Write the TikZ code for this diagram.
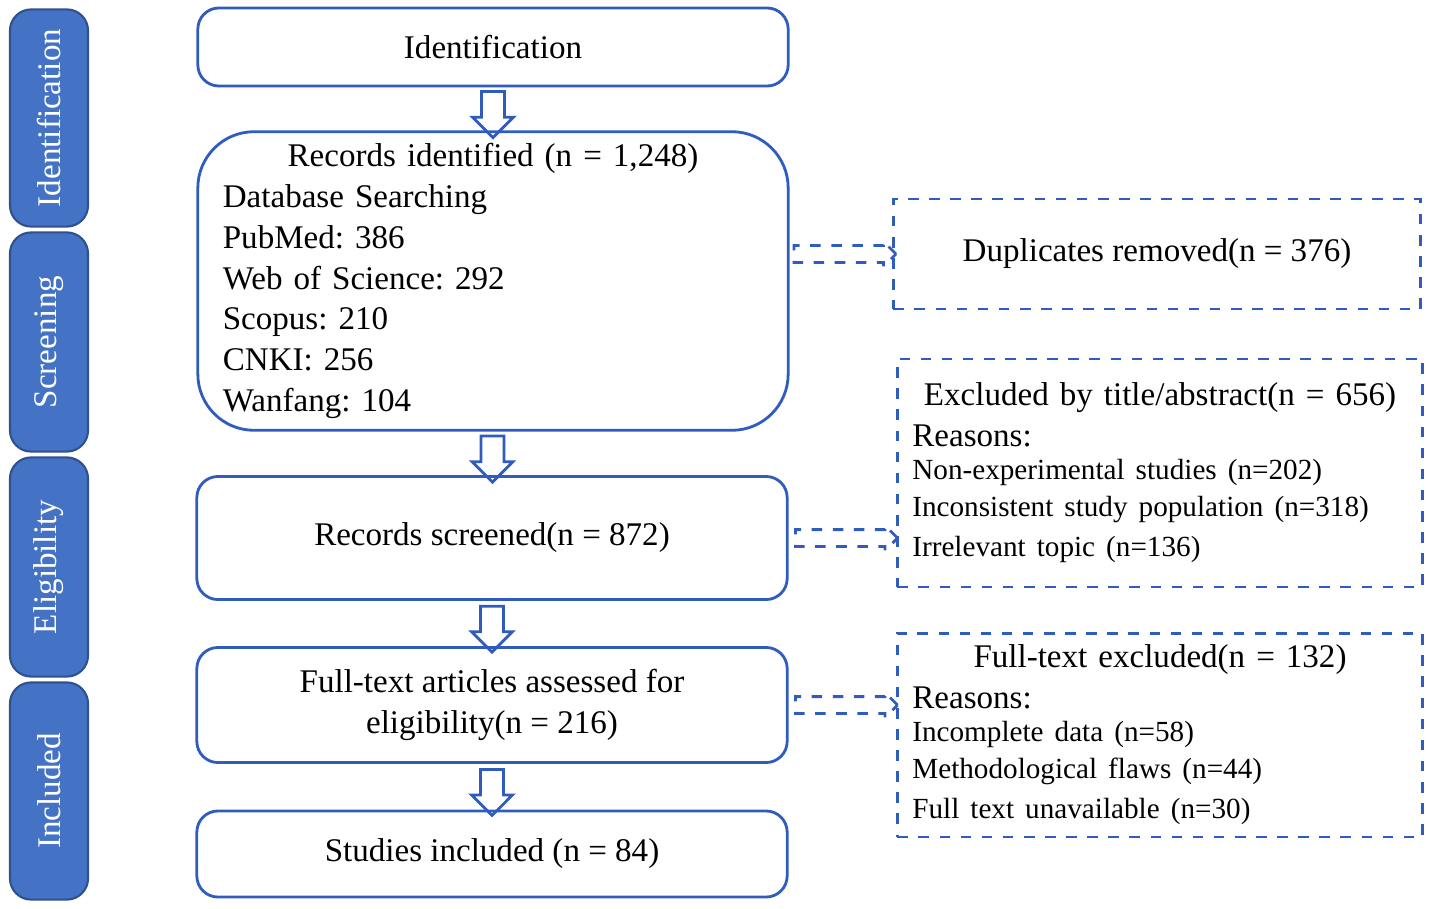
\documentclass[tikz,border=0pt]{standalone}
\usepackage{fontspec}
\setmainfont{Liberation Serif}
\usetikzlibrary{shapes.arrows,calc}
\definecolor{boxblue}{RGB}{48,92,190}
\definecolor{barfill}{RGB}{68,114,196}
\definecolor{bardraw}{RGB}{47,82,143}
\frenchspacing

\begin{document}
\begin{tikzpicture}[x=0.01cm,y=-0.01cm,font=\fontsize{9.4}{11.6}\selectfont,
  stage/.style={draw=bardraw,fill=barfill,rounded corners=6pt,text=white,minimum height=0.78cm,rotate=90,semithick},
  box/.style={draw=boxblue,thick,rounded corners=6pt,minimum width=5.9cm,align=center},
  side/.style={draw=boxblue,thick,dashed,minimum width=5.25cm,align=left},
  down/.style={single arrow,draw=boxblue,thick,shape border rotate=270,single arrow head extend=0.09cm,minimum height=0.46cm,inner sep=0.1cm},
  right/.style={single arrow,draw=boxblue,thick,dashed,single arrow head extend=0.04cm,minimum height=1.02cm,inner sep=0.07cm}]
\useasboundingbox (0,0) rectangle (1430,909);
% stage bars
\node[stage,minimum width=2.17cm] (s1) at (49,118) {Identification};
\node[stage,minimum width=2.19cm] (s2) at (49,342) {Screening};
\node[stage,minimum width=2.19cm] (s3) at (49,567) {Eligibility};
\node[stage,minimum width=2.17cm] (s4) at (49,791) {Included};
% main column
\node[box,minimum height=0.78cm] (id) at (493,47) {Identification};
\node[box,align=left,minimum height=2.94cm,rounded corners=16pt,text width=5.4cm] (rec) at (493,281)
  {{\centering Records identified (n = 1,248)\par}Database Searching\\PubMed: 386\\Web of Science: 292\\Scopus: 210\\CNKI: 256\\Wanfang: 104};
\node[box,minimum height=1.23cm] (scr) at (492,538) {Records screened(n = 872)};
\node[box,minimum height=1.15cm] (full) at (492,705) {Full-text articles assessed for\\eligibility(n = 216)};
\node[box,minimum height=0.86cm] (inc) at (492,854) {Studies included (n = 84)};
% side boxes
\node[side,minimum width=5.27cm,minimum height=1.1cm] (dup) at (1157,254) {Duplicates removed(n = 376)};
\node[side,minimum height=2.28cm,text width=4.95cm] (exc) at (1160,473)
  {{\centering Excluded by title/abstract(n = 656)\par}Reasons:\\[-1pt]
  {\fontsize{8.3}{10.4}\selectfont Non-experimental studies (n=202)\\Inconsistent study population (n=318)\\Irrelevant topic (n=136)}};
\node[side,minimum height=1.98cm,text width=4.95cm] (ftx) at (1160,735)
  {{\centering Full-text excluded(n = 132)\par}Reasons:\\[-1pt]
  {\fontsize{8.3}{10.4}\selectfont Incomplete data (n=58)\\Methodological flaws (n=44)\\Full text unavailable (n=30)}};
% arrows
\node[down] (a1) at ($(id.south)!0.5!(rec.north)$) {};
\node[down] (a2) at ($(rec.south)!0.5!(scr.north)$) {};
\node[down] (a3) at ($(scr.south)!0.5!(full.north)$) {};
\node[down] (a4) at ($(full.south)!0.5!(inc.north)$) {};
\node[right] (b1) at ($(rec.east |- dup)!0.5!(dup.west)$) {};
\node[right] (b2) at ($(scr.east)!0.5!(exc.west |- scr)$) {};
\node[right] (b3) at ($(full.east)!0.5!(ftx.west |- full)$) {};
\end{tikzpicture}
\end{document}
